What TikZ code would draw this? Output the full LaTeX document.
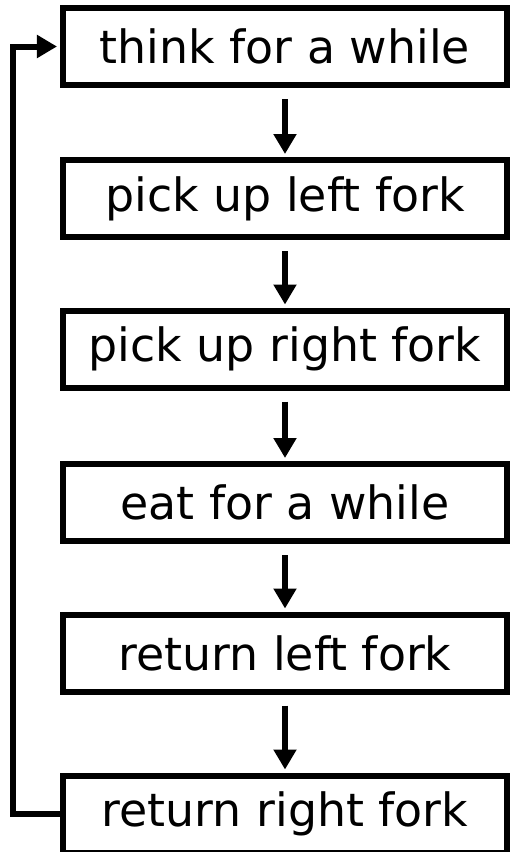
\documentclass[tikz,border=0pt]{standalone}
\usepackage{fontspec}
\setmainfont{DejaVu Sans}
\usetikzlibrary{arrows.meta}

\begin{document}
\begin{tikzpicture}[x=1bp, y=-1bp,
		box/.style={draw, line width=6bp, minimum width=444bp, minimum height=77bp, inner sep=0pt},
		pfeil/.style={-{Triangle[length=20bp, width=22bp]}, line width=6bp}, %Pfeilspitzen
		font=\fontsize{46}{50}\selectfont]
		% Bildbereich festlegen
		\useasboundingbox (0,0) rectangle (510,852);
		% Kästen
		\node[box] (think)  at (285,46.5) {think for a while};
		\node[box] (left)   at (285,198.5) {pick up left fork};
		\node[box] (right)  at (285,349) {pick up right fork};
		\node[box] (eat)    at (285,502.5) {eat for a while};
		\node[box] (retl)   at (285,653) {return left fork};
		\node[box] (retr)   at (285,814) {return right fork};
		% Pfeile zwischen den Kästen
		\foreach \a/\b in {think/left, left/right, right/eat, eat/retl, retl/retr}
			\draw[pfeil, shorten <=11bp, shorten >=3bp] (\a.south) -- (\b.north);
		% Rückführung
		\coordinate (loop) at (13,0);
		\draw[pfeil, shorten >=3bp] (retr.west) -| (loop |- think.west) -- (think.west);
	\end{tikzpicture}
\end{document}
